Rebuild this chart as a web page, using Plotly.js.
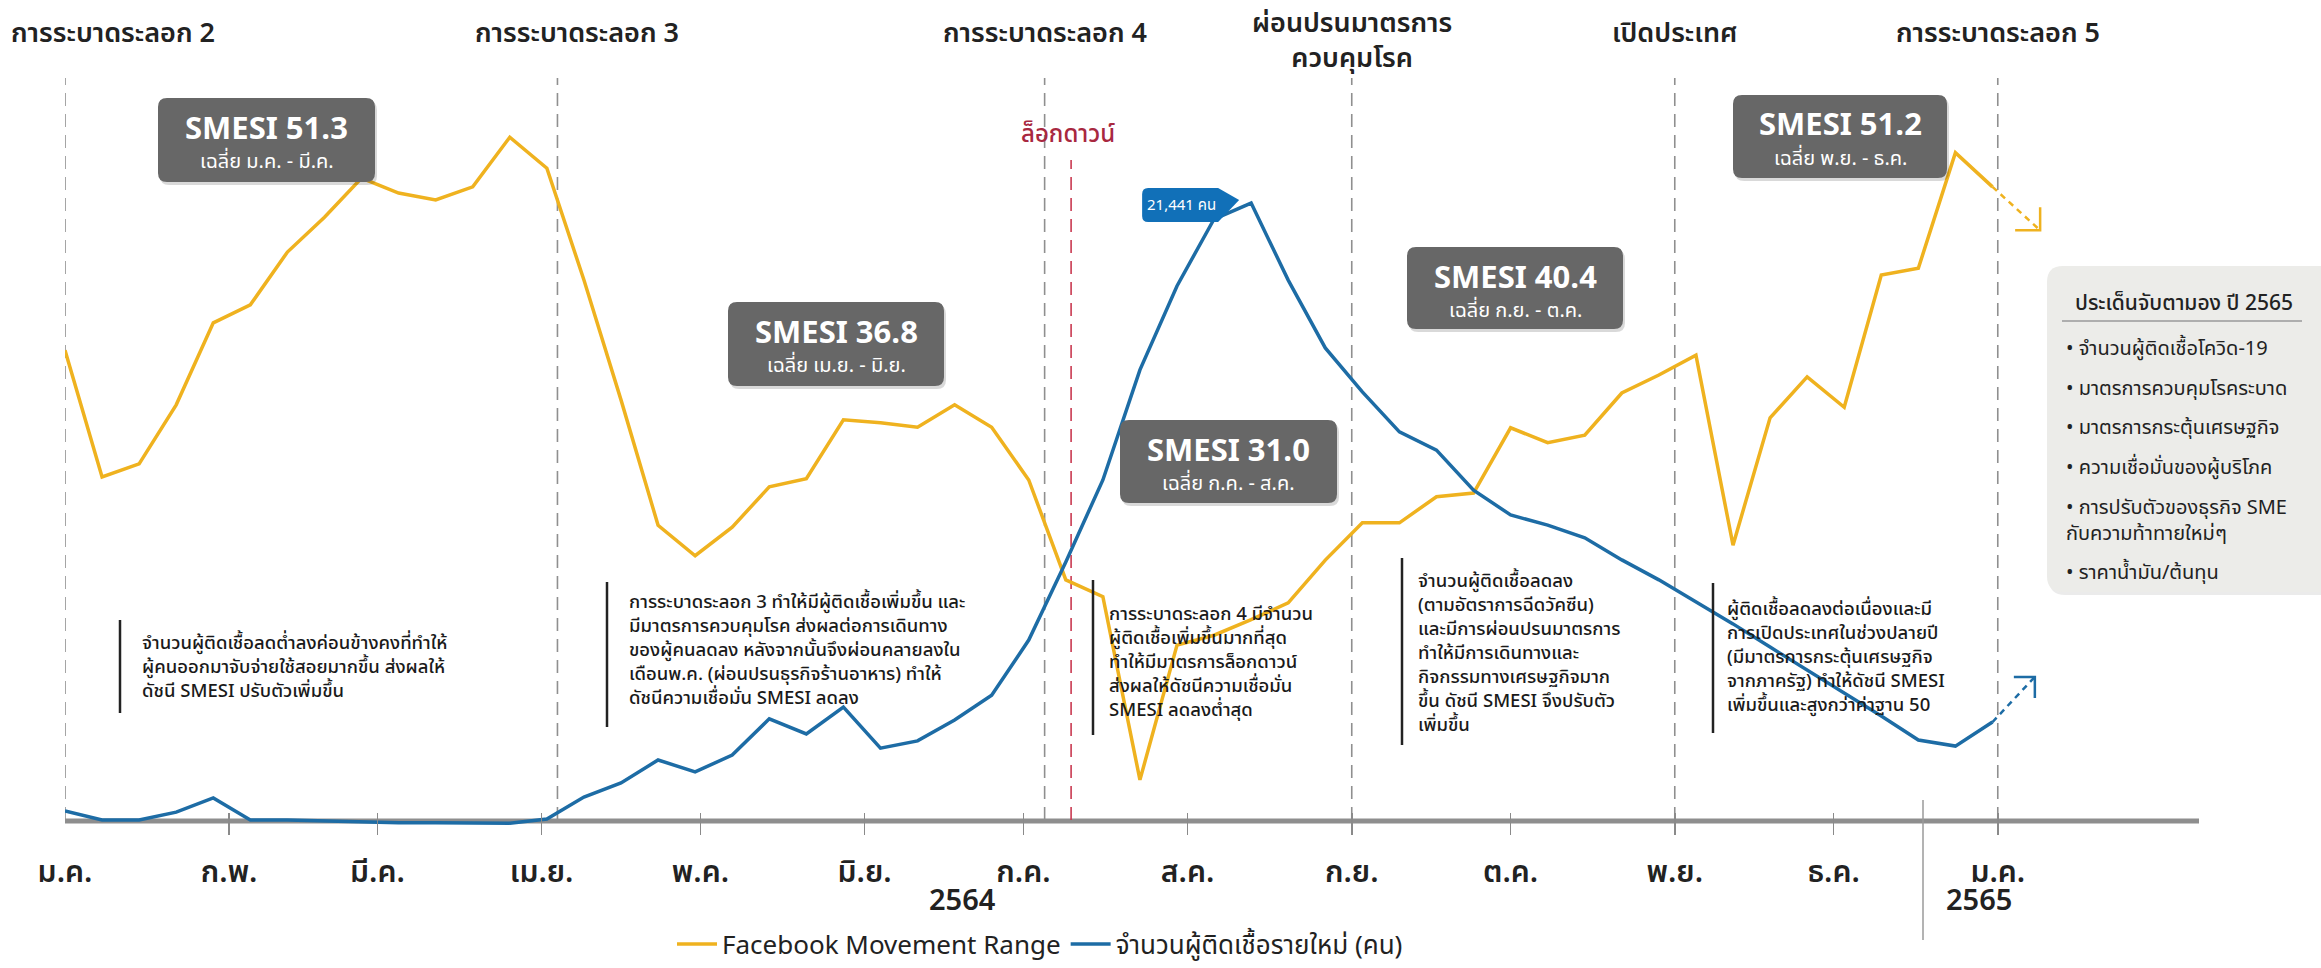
<!DOCTYPE html>
<html><head><meta charset="utf-8">
<script src="https://cdn.plot.ly/plotly-3.0.1.min.js"></script>
<style>html,body{margin:0;padding:0;background:#fff}#chart{width:2321px;height:968px}</style>
</head><body><div id="chart"></div>
<script>
// ---------------- DATA ----------------
const weekDates = ['2021-01-01','2021-01-08','2021-01-15','2021-01-22','2021-01-29','2021-02-05','2021-02-12','2021-02-19','2021-02-26','2021-03-05','2021-03-12','2021-03-19','2021-03-26','2021-04-02','2021-04-09','2021-04-16','2021-04-23','2021-04-30','2021-05-07','2021-05-14','2021-05-21','2021-05-28','2021-06-04','2021-06-11','2021-06-18','2021-06-25','2021-07-02','2021-07-09','2021-07-16','2021-07-23','2021-07-30','2021-08-06','2021-08-13','2021-08-20','2021-08-27','2021-09-03','2021-09-10','2021-09-17','2021-09-24','2021-10-01','2021-10-08','2021-10-15','2021-10-22','2021-10-29','2021-11-05','2021-11-12','2021-11-19','2021-11-26','2021-12-03','2021-12-10','2021-12-17','2021-12-24','2021-12-31'];
// Facebook Movement Range (relative index)
const movementRange = [76.3,55.9,58.0,67.5,80.7,83.6,92.1,97.7,104.0,101.6,100.5,102.6,110.6,105.6,87.6,68.3,48.1,43.2,47.8,54.3,55.6,65.1,64.6,63.9,67.5,63.9,55.4,39.3,36.6,7.1,28.8,30.4,32.9,35.6,42.5,48.5,48.5,52.7,53.3,63.8,61.4,62.6,69.4,72.3,75.5,44.9,65.4,72.0,67.1,88.4,89.5,108.1,102.6];
// New cases (persons)
const newCases = [450,140,140,410,900,140,140,100,70,40,40,30,30,170,930,1420,2210,1800,2380,3630,3110,4040,2620,2870,3590,4450,6350,9050,11880,15680,18580,20890,21441,18780,16440,14920,13540,12910,11530,10670,10320,9880,9120,8430,7670,6910,6110,5320,4520,3730,2900,2690,3520];
// dashed projections into 2022
const projDates = ['2021-12-31','2022-01-09'];
const movementProj = [102.6, 95.6];
const casesProjDates = ['2021-12-31','2022-01-08'];
const casesProj = [3520, 5080];

const monthTicks = ['2021-01-01','2021-02-01','2021-03-01','2021-04-01','2021-05-01','2021-06-01','2021-07-01','2021-08-01','2021-09-01','2021-10-01','2021-11-01','2021-12-01','2022-01-01'];
const monthLabels = ['ม.ค.','ก.พ.','มี.ค.','เม.ย.','พ.ค.','มิ.ย.','ก.ค.','ส.ค.','ก.ย.','ต.ค.','พ.ย.','ธ.ค.','ม.ค.'];
const yearLabels = ['2564','2565'];

const eventDates = ['2021-01-01','2021-04-04','2021-07-05','2021-09-01','2021-11-01','2022-01-01'];
const eventLabels = ['การระบาดระลอก 2','การระบาดระลอก 3','การระบาดระลอก 4','ผ่อนปรนมาตรการ<br>ควบคุมโรค','เปิดประเทศ','การระบาดระลอก 5'];
const lockdownDate = '2021-07-10';
const lockdownLabel = 'ล็อกดาวน์';

const smesiValues = ['51.3','36.8','31.0','40.4','51.2'];
const smesiPeriods = ['ม.ค. - มี.ค.','เม.ย. - มิ.ย.','ก.ค. - ส.ค.','ก.ย. - ต.ค.','พ.ย. - ธ.ค.'];
const peakLabel = '21,441 คน';

const notes = [
 'จำนวนผู้ติดเชื้อลดต่ำลงค่อนข้างคงที่ทำให้<br>ผู้คนออกมาจับจ่ายใช้สอยมากขึ้น ส่งผลให้<br>ดัชนี SMESI ปรับตัวเพิ่มขึ้น',
 'การระบาดระลอก 3 ทำให้มีผู้ติดเชื้อเพิ่มขึ้น และ<br>มีมาตรการควบคุมโรค ส่งผลต่อการเดินทาง<br>ของผู้คนลดลง หลังจากนั้นจึงผ่อนคลายลงใน<br>เดือนพ.ค. (ผ่อนปรนธุรกิจร้านอาหาร) ทำให้<br>ดัชนีความเชื่อมั่น SMESI ลดลง',
 'การระบาดระลอก 4 มีจำนวน<br>ผู้ติดเชื้อเพิ่มขึ้นมากที่สุด<br>ทำให้มีมาตรการล็อกดาวน์<br>ส่งผลให้ดัชนีความเชื่อมั่น<br>SMESI ลดลงต่ำสุด',
 'จำนวนผู้ติดเชื้อลดลง<br>(ตามอัตราการฉีดวัคซีน)<br>และมีการผ่อนปรนมาตรการ<br>ทำให้มีการเดินทางและ<br>กิจกรรมทางเศรษฐกิจมาก<br>ขึ้น ดัชนี SMESI จึงปรับตัว<br>เพิ่มขึ้น',
 'ผู้ติดเชื้อลดลงต่อเนื่องและมี<br>การเปิดประเทศในช่วงปลายปี<br>(มีมาตรการกระตุ้นเศรษฐกิจ<br>จากภาครัฐ) ทำให้ดัชนี SMESI<br>เพิ่มขึ้นและสูงกว่าค่าฐาน 50'
];
const watchTitle = 'ประเด็นจับตามอง ปี 2565';
const watchItems = ['จำนวนผู้ติดเชื้อโควิด-19','มาตรการควบคุมโรคระบาด','มาตรการกระตุ้นเศรษฐกิจ','ความเชื่อมั่นของผู้บริโภค','การปรับตัวของธุรกิจ SME<br>กับความท้าทายใหม่ๆ','ราคาน้ำมัน/ต้นทุน'];
const seriesNames = ['Facebook Movement Range','จำนวนผู้ติดเชื้อรายใหม่ (คน)'];

// ---------------- LAYOUT HELPERS ----------------
const W=2321,H=968,ML=65,MR=122,MT=40,MB=133;
const PW=W-ML-MR, PH=H-MT-MB;
const px=x=>(x-ML)/PW, py=y=>(H-MB-y)/PH;
const FONT="'Noto Sans Thai','Noto Sans Thai UI','Noto Sans',sans-serif";
const YEL='#EFB21F', BLU='#1D6CA5';

function rrect(x0,y0,x1,y1,r,fill){
  const rx=r/PW, ry=r/PH;
  const X0=px(x0),X1=px(x1),Yt=py(y0),Yb=py(y1);
  const p=`M ${X0+rx},${Yt} L ${X1-rx},${Yt} Q ${X1},${Yt} ${X1},${Yt-ry} L ${X1},${Yb+ry} Q ${X1},${Yb} ${X1-rx},${Yb} L ${X0+rx},${Yb} Q ${X0},${Yb} ${X0},${Yb+ry} L ${X0},${Yt-ry} Q ${X0},${Yt} ${X0+rx},${Yt} Z`;
  return {type:'path',xref:'paper',yref:'paper',path:p,fillcolor:fill,line:{width:0},layer:'above'};
}
function ann(o){ return Object.assign({showarrow:false,xanchor:'center',yanchor:'middle',xref:'paper',yref:'paper'},o); }

const shapes=[], annotations=[];

// baseline
shapes.push({type:'line',xref:'x',yref:'paper',x0:'2021-01-01',x1:'2022-02-08',y0:py(821),y1:py(821),line:{color:'#8e8e8e',width:5},layer:'below'});
// event dashed lines + headers
eventDates.forEach((d,i)=>{
  shapes.push({type:'line',xref:'x',yref:'paper',x0:d,x1:d,y0:py(820),y1:py(78),line:{color:'#8f8f8f',width:1.6,dash:'13px,8px'},layer:'below'});
  const two = eventLabels[i].includes('<br>');
  const a=ann({text:eventLabels[i],y:py(two?41:33),font:{family:FONT,size:27,color:'#222',weight:600}});
  if(i===0){a.x=px(9);a.xanchor='left';}
  else {a.xref='x';a.x=d; if(i===1) a.xshift=20;}
  annotations.push(a);
});
// lockdown
shapes.push({type:'line',xref:'x',yref:'paper',x0:lockdownDate,x1:lockdownDate,y0:py(820),y1:py(160),line:{color:'#C93A52',width:1.6,dash:'13px,8px'},layer:'below'});
annotations.push(ann({text:lockdownLabel,x:px(1068),y:py(135),font:{family:FONT,size:24,color:'#A8283F',weight:500}}));

// SMESI boxes
const boxes=[[158,98,375,182],[728,302,944,386],[1120,420,1337,503],[1407,247,1623,329],[1733,95,1947,178]];
boxes.forEach((b,i)=>{
  shapes.push(rrect(b[0]+2,b[1]+3,b[2]+2,b[3]+3,9,'rgba(0,0,0,0.15)'));
  shapes.push(rrect(b[0],b[1],b[2],b[3],9,'#676767'));
  const cx=(b[0]+b[2])/2;
  annotations.push(ann({text:'<b>SMESI '+smesiValues[i]+'</b>',x:px(cx),y:py(b[1]+31),font:{family:FONT,size:31,color:'#fff'}}));
  annotations.push(ann({text:'เฉลี่ย '+smesiPeriods[i],x:px(cx),y:py(b[1]+64),font:{family:FONT,size:20,color:'#fff'}}));
});

// peak tag on blue line
let pk=0; newCases.forEach((v,i)=>{if(v>newCases[pk])pk=i;});
shapes.push({type:'path',xref:'x',yref:'y2',xsizemode:'pixel',ysizemode:'pixel',xanchor:weekDates[pk],yanchor:newCases[pk],
  path:'M -12,3 L -33,15 L -103,15 Q -109,15 -109,9 L -109,-13 Q -109,-19 -103,-19 L -33,-19 Z',fillcolor:'#1170B8',line:{width:0},layer:'above'});
annotations.push(ann({text:peakLabel,xref:'x',yref:'y2',x:weekDates[pk],y:newCases[pk],xshift:-70,yshift:-2,font:{family:FONT,size:15,color:'#fff'}}));

// projection arrowheads (pixel-size, anchored at projection ends)
shapes.push({type:'path',xref:'x',yref:'y',xsizemode:'pixel',ysizemode:'pixel',xanchor:projDates[1],yanchor:movementProj[1],path:'M -25,0 L 0,0 L 0,23',line:{color:YEL,width:2.5},layer:'above'});
shapes.push({type:'path',xref:'x',yref:'y2',xsizemode:'pixel',ysizemode:'pixel',xanchor:casesProjDates[1],yanchor:casesProj[1],path:'M -21,0 L 0,0 L 0,-21',line:{color:BLU,width:2.5},layer:'above'});

// notes
const notePos=[[120,620,713,140,667],[607,582,727,627,650],[1093,580,735,1107,662],[1402,558,745,1416,653],[1713,583,733,1725,657]];
notes.forEach((t,i)=>{
  const n=notePos[i];
  shapes.push({type:'line',xref:'paper',yref:'paper',x0:px(n[0]),x1:px(n[0]),y0:py(n[1]),y1:py(n[2]),line:{color:'#222',width:2.5},layer:'above'});
  annotations.push(ann({text:t,x:px(n[3]),y:py(n[4]),xanchor:'left',align:'left',font:{family:FONT,size:18.5,color:'#1a1a1a',weight:500}}));
});

// watch box
shapes.push(rrect(2049,269,2349,595,16,'rgba(0,0,0,0.08)'));
shapes.push(rrect(2047,266,2345,592,16,'#ECECE9'));
annotations.push(ann({text:watchTitle,x:px(2184),y:py(303),font:{family:FONT,size:21,color:'#222',weight:500}}));
shapes.push({type:'line',xref:'paper',yref:'paper',x0:px(2062),x1:px(2302),y0:py(321),y1:py(321),line:{color:'#9a9a9a',width:1.5},layer:'above'});
const watchY=[349,389,428,468,521,573];
watchItems.forEach((t,i)=>{
  annotations.push(ann({text:'• '+t,x:px(2064),y:py(watchY[i]),xanchor:'left',align:'left',font:{family:FONT,size:20,color:'#222'}}));
});

// year labels and separator
annotations.push(ann({text:yearLabels[0],x:px(962),y:py(901),font:{family:FONT,size:29,color:'#222',weight:600}}));
annotations.push(ann({text:yearLabels[1],x:px(1979),y:py(901),font:{family:FONT,size:29,color:'#222',weight:600}}));
shapes.push({type:'line',xref:'paper',yref:'paper',x0:px(1923),x1:px(1923),y0:py(800),y1:py(940),line:{color:'#9a9a9a',width:1.5}});

// ---------------- TRACES ----------------
const traces=[
 {x:weekDates,y:movementRange,type:'scatter',mode:'lines',name:seriesNames[0],line:{color:YEL,width:3.5},yaxis:'y'},
 {x:weekDates,y:newCases,type:'scatter',mode:'lines',name:seriesNames[1],line:{color:BLU,width:3.5},yaxis:'y2'},
 {x:projDates,y:movementProj,type:'scatter',mode:'lines',showlegend:false,line:{color:YEL,width:2.5,dash:'6px,5px'},yaxis:'y'},
 {x:casesProjDates,y:casesProj,type:'scatter',mode:'lines',showlegend:false,line:{color:BLU,width:2.5,dash:'6px,5px'},yaxis:'y2'}
];

const layout={
  width:W,height:H,margin:{l:ML,r:MR,t:MT,b:MB,autoexpand:false},
  paper_bgcolor:'#fff',plot_bgcolor:'rgba(0,0,0,0)',
  font:{family:FONT,color:'#222'},
  showlegend:true,
  legend:{orientation:'h',x:px(1040),xanchor:'center',y:py(944),yanchor:'middle',font:{family:FONT,size:26,color:'#222'},itemwidth:40,bgcolor:'rgba(0,0,0,0)',borderwidth:0},
  xaxis:{type:'date',range:['2021-01-01','2022-02-08'],tickvals:monthTicks,ticktext:monthLabels,ticks:'inside',ticklen:22,tickwidth:1.5,tickcolor:'#8a8a8a',
         tickfont:{family:FONT,size:30,color:'#222',weight:600},ticklabelstandoff:16,showgrid:false,zeroline:false,showline:false,fixedrange:true,automargin:false},
  yaxis:{range:[-1.771,126.25],visible:false,fixedrange:true},
  yaxis2:{range:[-379.8,27071.5],overlaying:'y',visible:false,fixedrange:true},
  shapes:shapes,annotations:annotations,hovermode:false
};
Plotly.newPlot('chart',traces,layout,{displayModeBar:false,staticPlot:true});
</script></body></html>
